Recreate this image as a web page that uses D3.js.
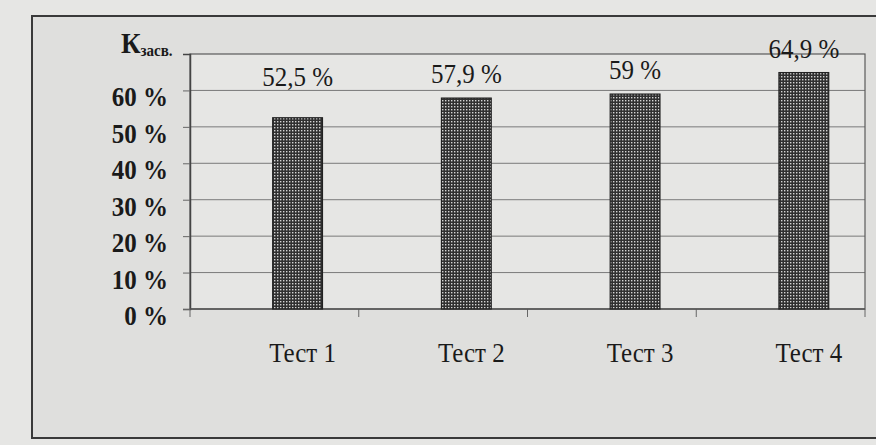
<!DOCTYPE html>
<html>
<head>
<meta charset="utf-8">
<title>Kзасв.</title>
<script src="https://d3js.org/d3.v7.min.js"></script>
<style>
  body { margin: 0; background: #e4e4e2; }
  svg { display: block; }
</style>
</head>
<body>
<svg width="876" height="445"></svg>
<script>
// data
var categories = ["Тест 1", "Тест 2", "Тест 3", "Тест 4"];
var values = [52.5, 57.9, 59, 64.9];
var yTicks = [0, 10, 20, 30, 40, 50, 60];

var svg = d3.select("svg"),
    width = +svg.attr("width"),
    height = +svg.attr("height");

var serif = "'Liberation Serif', 'DejaVu Serif', serif";
var stretch = 1.13; // the scan is a bit taller than wide

var plot = {left: 190, right: 865, top: 54, bottom: 309};

var x = d3.scaleBand()
    .domain(categories)
    .range([plot.left, plot.right])
    .padding(0);

var y = d3.scaleLinear()
    .domain([0, 70])
    .range([plot.bottom, plot.top]);

function place(px, py) {
    return "translate(" + px + "," + py + ") scale(1," + stretch + ")";
}

// checkered fill like the scan
var defs = svg.append("defs");
var pat = defs.append("pattern")
    .attr("id", "chk")
    .attr("width", 3)
    .attr("height", 3)
    .attr("patternUnits", "userSpaceOnUse");
pat.append("rect").attr("width", 3).attr("height", 3).attr("fill", "#303030");
pat.append("rect").attr("x", 1).attr("y", 1).attr("width", 1.4).attr("height", 1.4).attr("fill", "#d4d4d4");

// paper
svg.append("rect")
    .attr("width", width)
    .attr("height", height)
    .attr("fill", "#e6e6e4");

// outer frame
svg.append("rect")
    .attr("x", 32)
    .attr("y", 16)
    .attr("width", 860)
    .attr("height", 422)
    .attr("fill", "#dfdfdd")
    .attr("stroke", "#3a3a3a")
    .attr("stroke-width", 2);

// plot area
svg.append("rect")
    .attr("x", plot.left)
    .attr("y", plot.top)
    .attr("width", plot.right - plot.left)
    .attr("height", plot.bottom - plot.top)
    .attr("fill", "#e6e6e4");

// gridlines
svg.append("g")
    .selectAll("line")
    .data(yTicks.slice(1))
    .enter().append("line")
    .attr("x1", plot.left)
    .attr("x2", plot.right)
    .attr("y1", function(d) { return y(d); })
    .attr("y2", function(d) { return y(d); })
    .attr("stroke", "#7a7a7a")
    .attr("stroke-width", 1);

// plot border
svg.append("rect")
    .attr("x", plot.left)
    .attr("y", plot.top)
    .attr("width", plot.right - plot.left)
    .attr("height", plot.bottom - plot.top)
    .attr("fill", "none")
    .attr("stroke", "#5a5a5a")
    .attr("stroke-width", 1.2);

// y axis
var yAxis = svg.append("g")
    .attr("transform", "translate(" + plot.left + ",0)")
    .call(d3.axisLeft(y)
        .tickValues(yTicks)
        .tickSize(7)
        .tickPadding(15)
        .tickFormat(function(d) { return d + " %"; }));
yAxis.select(".domain").attr("stroke", "#444").attr("stroke-width", 1.5);
yAxis.selectAll(".tick line").attr("stroke", "#666");
yAxis.selectAll("text")
    .attr("font-size", 25)
    .attr("font-weight", "bold")
    .attr("fill", "#1a1a1a")
    .attr("dy", "0.55em")
    .attr("transform", "scale(1," + stretch + ")")
    .style("font-family", serif);

// x axis ticks at category boundaries
var bounds = categories.map(function(c) { return x(c); }).concat([x.range()[1]]);
svg.append("g")
    .selectAll("line")
    .data(bounds)
    .enter().append("line")
    .attr("x1", function(d) { return d; })
    .attr("x2", function(d) { return d; })
    .attr("y1", plot.bottom)
    .attr("y2", plot.bottom + 8)
    .attr("stroke", "#666");

svg.append("line")
    .attr("x1", plot.left)
    .attr("x2", plot.right)
    .attr("y1", plot.bottom)
    .attr("y2", plot.bottom)
    .attr("stroke", "#555")
    .attr("stroke-width", 1.5);

// bars sit a little right of the band centre in the original
var barOff = x.step() * 0.49,
    barW = x.step() * 0.295;

svg.append("g")
    .selectAll("rect")
    .data(values)
    .enter().append("rect")
    .attr("x", function(d, i) { return x(categories[i]) + barOff; })
    .attr("y", function(d) { return y(d); })
    .attr("width", barW)
    .attr("height", function(d) { return y(0) - y(d); })
    .attr("fill", "url(#chk)")
    .attr("stroke", "#222")
    .attr("stroke-width", 1.2);

// value labels
svg.append("g")
    .selectAll("text")
    .data(values)
    .enter().append("text")
    .attr("transform", function(d, i) {
        return place(x(categories[i]) + barOff + barW / 2, Math.min(y(d) - 15, y(60) - 4));
    })
    .attr("text-anchor", "middle")
    .attr("font-family", serif)
    .attr("font-size", 25)
    .attr("fill", "#1a1a1a")
    .text(function(d) { return String(d).replace(".", ",") + " %"; });

// category labels
svg.append("g")
    .selectAll("text")
    .data(categories)
    .enter().append("text")
    .attr("transform", function(d) { return place(x(d) + barOff + barW / 2 + 5, 362); })
    .attr("text-anchor", "middle")
    .attr("font-family", serif)
    .attr("font-size", 25)
    .attr("fill", "#1a1a1a")
    .text(function(d) { return d; });

// axis title
var title = svg.append("text")
    .attr("transform", place(121, 53))
    .attr("font-family", serif)
    .attr("font-weight", "bold")
    .attr("font-size", 27)
    .attr("fill", "#1a1a1a");
title.append("tspan").text("К");
title.append("tspan")
    .attr("font-size", 15)
    .attr("dy", 3)
    .text("засв.");
</script>
</body>
</html>
